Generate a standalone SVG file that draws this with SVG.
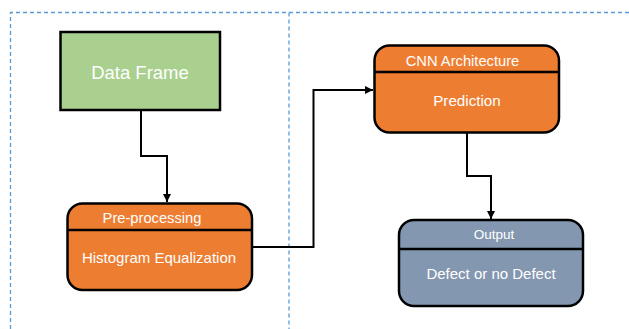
<svg xmlns="http://www.w3.org/2000/svg" width="629" height="329" viewBox="0 0 629 329">
<defs>
<style>
.dash{fill:none;stroke:#5B9BD5;stroke-width:1.3;stroke-dasharray:4 3}
.box{stroke:#000;stroke-width:2.5}
.sep{stroke:#000;stroke-width:2.5}
.orange{fill:#ED7D31}
.gray{fill:#8497B0}
.green{fill:#A9D08E}
.t{font-family:"Liberation Sans",Arial,sans-serif;fill:#fff;text-anchor:middle}
.conn{fill:none;stroke:#000;stroke-width:2}
</style>
<marker id="arr" viewBox="0 0 10 10" refX="10" refY="5" markerWidth="4" markerHeight="4" orient="auto" markerUnits="strokeWidth">
<path d="M0,0 L10,5 L0,10 z" fill="#000"/>
</marker>
</defs>
<rect width="629" height="329" fill="#fff"/>
<g id="frame">
<path class="dash" d="M10.5,329 V12.5 H629"/>
<path class="dash" d="M289,12.5 V329"/>
</g>
<g id="connectors">
<path class="conn" d="M141,110 V156 H167 V202" marker-end="url(#arr)"/>
<path class="conn" d="M252,247 H313.5 V90 H373" marker-end="url(#arr)"/>
<path class="conn" d="M467,133 V176 H491 V219" marker-end="url(#arr)"/>
</g>
<g id="data-frame">
<rect class="box green" x="60.5" y="32" width="159.5" height="78"/>
<text class="t" x="140" y="78.5" font-size="18.5">Data Frame</text>
</g>
<g id="pre-processing">
<rect class="box orange" x="67.5" y="203.5" width="184.5" height="86.5" rx="15"/>
<line class="sep" x1="67.5" y1="230" x2="252" y2="230"/>
<text class="t" x="152" y="223.3" font-size="14.7">Pre-processing</text>
<text class="t" x="159" y="263.3" font-size="15">Histogram Equalization</text>
</g>
<g id="cnn">
<rect class="box orange" x="374.5" y="45.5" width="184.5" height="87" rx="15"/>
<line class="sep" x1="374.5" y1="72" x2="559" y2="72"/>
<text class="t" x="462.5" y="65.7" font-size="14.7">CNN Architecture</text>
<text class="t" x="467" y="106" font-size="15.2">Prediction</text>
</g>
<g id="output">
<rect class="box gray" x="399" y="220" width="184" height="86" rx="15"/>
<line class="sep" x1="399" y1="249" x2="583" y2="249"/>
<text class="t" x="494" y="239.3" font-size="13.5">Output</text>
<text class="t" x="491" y="279.3" font-size="15">Defect or no Defect</text>
</g>
</svg>
